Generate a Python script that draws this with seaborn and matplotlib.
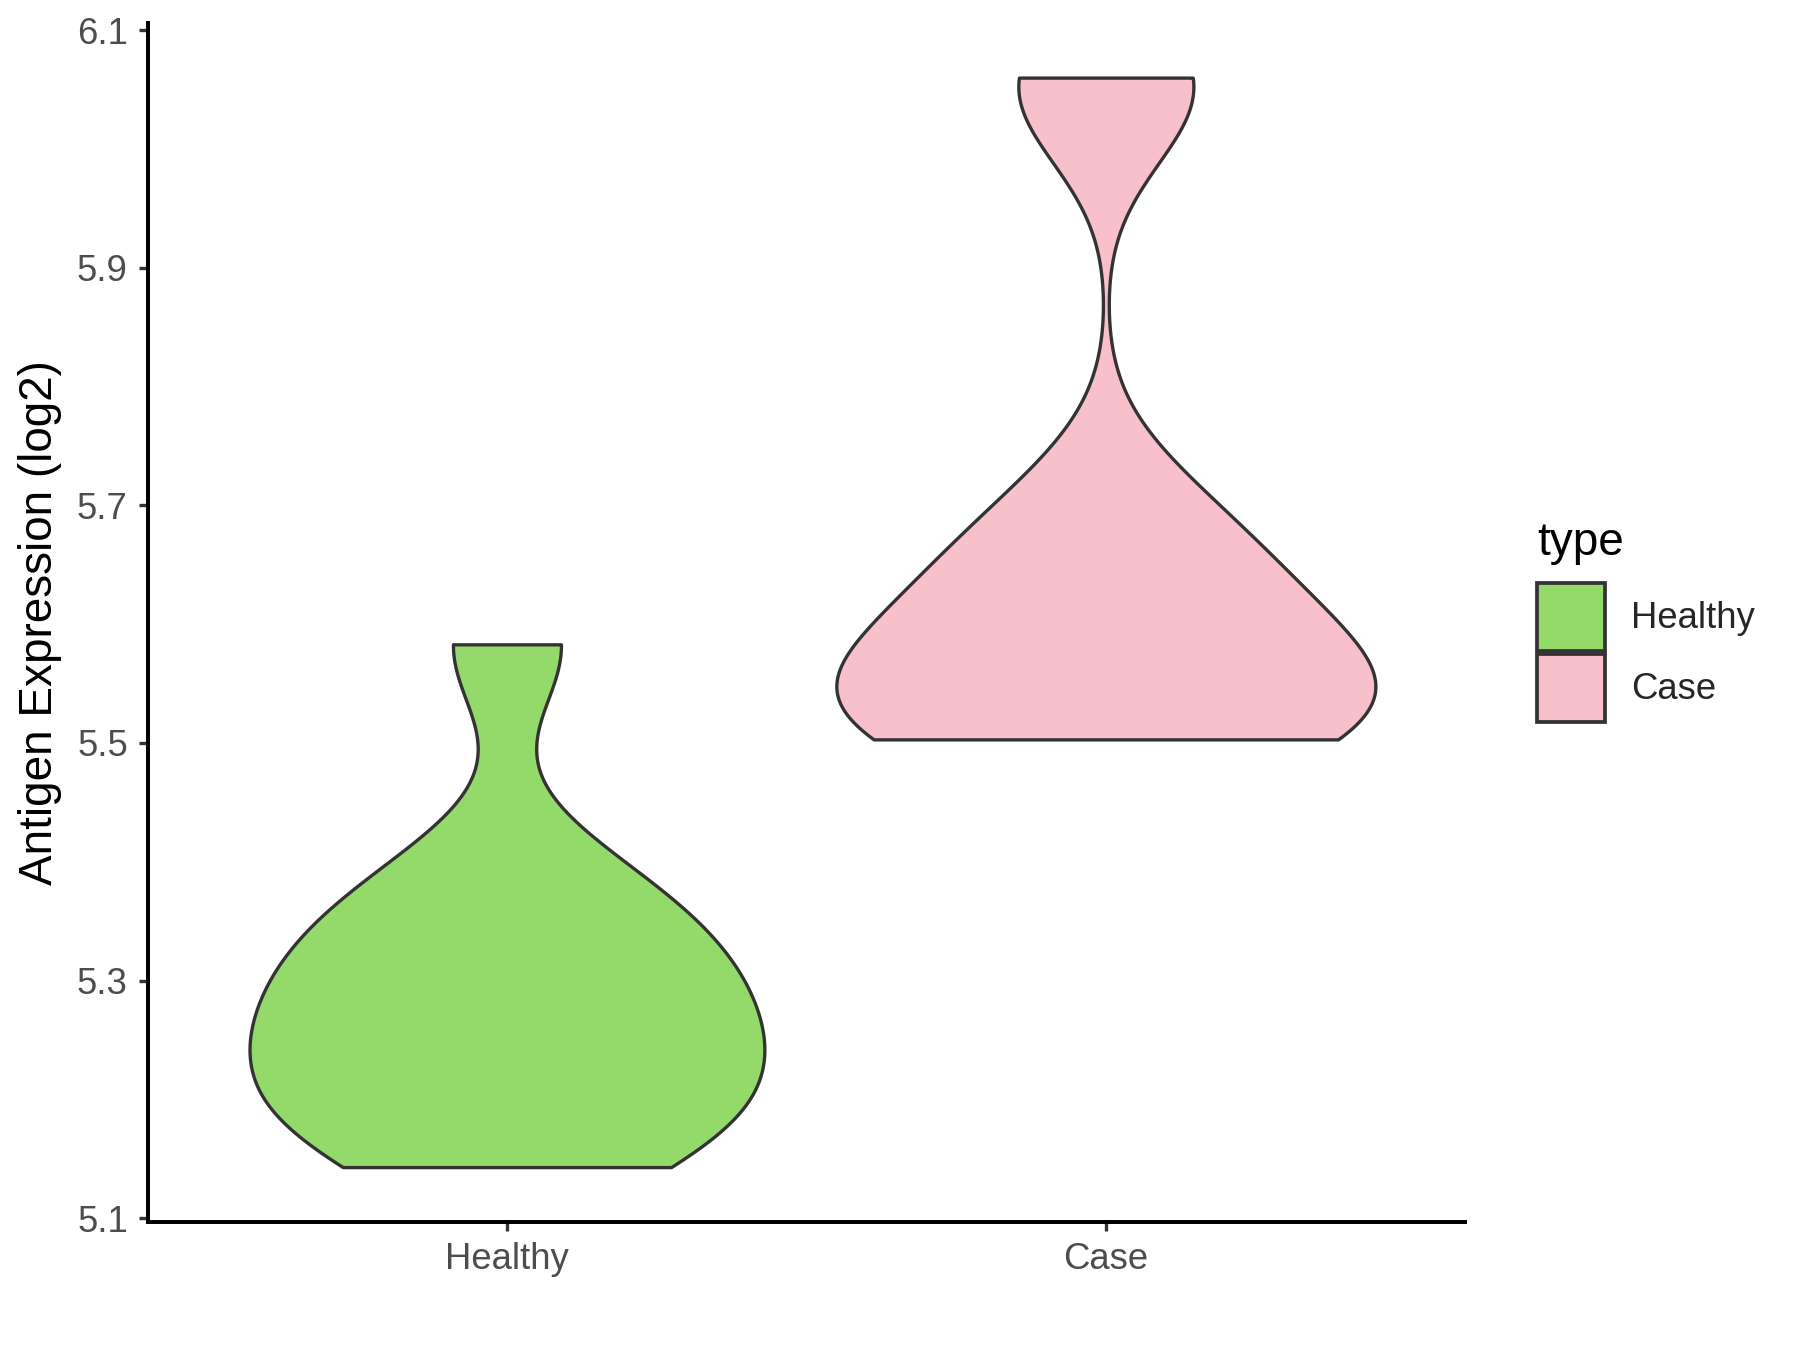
import numpy as np
import pandas as pd
import matplotlib
matplotlib.use("Agg")
import matplotlib.pyplot as plt
from matplotlib.patches import Patch
import seaborn as sns

# Data (log2 antigen expression)
groups = ["Healthy", "Case"]
healthy_values = [5.143, 5.171, 5.199, 5.227, 5.256, 5.285, 5.315, 5.35,
                  5.39, 5.583]
case_values = [5.503, 5.508, 5.518, 5.533, 5.555, 5.583, 5.622, 5.657, 5.70,
               6.045, 6.06]
colors = {"Healthy": "#93DA6A", "Case": "#F8C0CB"}

df = pd.DataFrame({
    "type": ["Healthy"] * len(healthy_values) + ["Case"] * len(case_values),
    "value": healthy_values + case_values,
})


def nrd0(kde):
    # R's default bandwidth, expressed as a factor for gaussian_kde
    x = np.asarray(kde.dataset).ravel()
    sd = x.std(ddof=1)
    q75, q25 = np.percentile(x, [75, 25])
    h = 0.9 * min(sd, (q75 - q25) / 1.34) * len(x) ** -0.2
    return h / sd


sns.set_style("white")
plt.rcParams["font.family"] = ["Liberation Sans", "DejaVu Sans"]

fig = plt.figure(figsize=(12, 9), dpi=150)
ax = fig.add_axes([0.082, 0.095, 0.732, 0.888])

# area scaling shared across both violins, like ggplot's scale = "area"
sns.violinplot(data=df, x="type", y="value", hue="type", order=groups,
               hue_order=groups, palette=colors, cut=0, inner=None,
               density_norm="area", common_norm=True, width=0.9, gridsize=512,
               bw_method=nrd0, linewidth=1.6, linecolor="#333333",
               saturation=1, legend=False, ax=ax)

ax.set_xlim(-0.6, 1.6)
ax.set_ylim(5.097, 6.106)
ax.set_yticks([5.1, 5.3, 5.5, 5.7, 5.9, 6.1])
ax.set_yticklabels(["5.1", "5.3", "5.5", "5.7", "5.9", "6.1"])
ax.set_xlabel("")
ax.set_ylabel("Antigen Expression (log2)", fontsize=22, color="black")
ax.yaxis.label.set_va("center")
ax.yaxis.set_label_coords(-0.0817, 0.5)
ax.tick_params(axis="both", labelsize=17.5, labelcolor="#4D4D4D", color="#333333",
               length=4.5, width=1.6, direction="out", left=True, bottom=True, pad=5)
for side in ["top", "right"]:
    ax.spines[side].set_visible(False)
for side in ["left", "bottom"]:
    ax.spines[side].set_color("black")
    ax.spines[side].set_linewidth(1.9)

fig.text(1537 / 1800, 1 - 555 / 1350, "type", fontsize=22, color="black",
         ha="left", va="baseline")
handles = [Patch(facecolor=colors[g], edgecolor="#333333", linewidth=1.8, label=g)
           for g in groups]
fig.legend(handles=handles, loc="upper left",
           bbox_to_anchor=(1537 / 1800, 1 - 583 / 1350), frameon=False,
           fontsize=17.5, handlelength=1.86, handleheight=2.49,
           labelspacing=0.08, handletextpad=0.72, borderpad=0, borderaxespad=0)

fig.savefig("out.png", dpi=150)
